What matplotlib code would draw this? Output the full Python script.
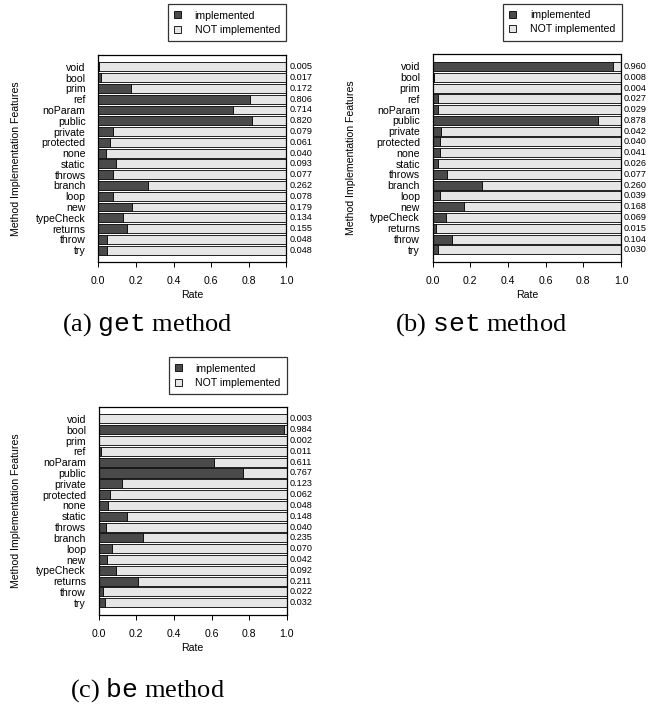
import matplotlib
matplotlib.use("Agg")
import matplotlib.pyplot as plt
from matplotlib.patches import Patch

plt.rcParams["font.family"] = ["Liberation Sans", "DejaVu Sans"]
plt.rcParams["mathtext.fontset"] = "custom"
plt.rcParams["mathtext.tt"] = "Liberation Mono"
plt.rcParams["mathtext.rm"] = "Liberation Serif"

###########################
# Data
###########################

features = ["void", "bool", "prim", "ref", "noParam", "public", "private",
            "protected", "none", "static", "throws", "branch", "loop", "new",
            "typeCheck", "returns", "throw", "try"]

get_rate = [0.005, 0.017, 0.172, 0.806, 0.714, 0.820, 0.079, 0.061, 0.040,
            0.093, 0.077, 0.262, 0.078, 0.179, 0.134, 0.155, 0.048, 0.048]
set_rate = [0.960, 0.008, 0.004, 0.027, 0.029, 0.878, 0.042, 0.040, 0.041,
            0.026, 0.077, 0.260, 0.039, 0.168, 0.069, 0.015, 0.104, 0.030]
be_rate = [0.003, 0.984, 0.002, 0.011, 0.611, 0.767, 0.123, 0.062, 0.048,
           0.148, 0.040, 0.235, 0.070, 0.042, 0.092, 0.211, 0.022, 0.032]

x_ticks = [0.0, 0.2, 0.4, 0.6, 0.8, 1.0]

dark = "#4a4a4a"
light = "#e6e6e6"
fs = 7.6

W, H = 654, 704
fig = plt.figure(figsize=(W / 100, H / 100), dpi=100)


def px_rect(left, top, right, bottom):
    return [left / W, 1 - bottom / H, (right - left) / W, (bottom - top) / H]


def panel(rect_px, rates, legend_px, ylabel_x, caption, caption_xy):
    ax = fig.add_axes(px_rect(*rect_px))
    y = list(range(len(features)))
    not_rates = [1 - r for r in rates]
    ax.barh(y, rates, height=0.833, color=dark, edgecolor="black", linewidth=0.6)
    ax.barh(y, not_rates, left=rates, height=0.833, color=light,
            edgecolor="black", linewidth=0.6)
    ax.set_xlim(0, 1)
    ax.set_ylim(18.13, -1.13)
    ax.set_yticks(y)
    ax.set_yticklabels(features, fontsize=fs)
    ax.tick_params(axis="y", length=0, pad=9.2)
    ax.set_xticks(x_ticks)
    ax.set_xticklabels(["%.1f" % t for t in x_ticks], fontsize=fs)
    ax.tick_params(axis="x", length=3.4, width=0.7, pad=6.5, direction="out")
    ax.set_xlabel("Rate", fontsize=fs, labelpad=3)
    for s in ax.spines.values():
        s.set_linewidth(0.9)

    # valeurs a droite des barres
    for i, r in enumerate(rates):
        ax.text(1.016, i, "%.3f" % r, transform=ax.get_yaxis_transform(),
                fontsize=6.6, va="center", ha="left")

    fig.text(ylabel_x / W, 1 - (rect_px[1] + rect_px[3]) / 2 / H,
             "Method Implementation Features", rotation=90,
             fontsize=fs, ha="center", va="center")

    handles = [Patch(facecolor=dark, edgecolor="black", linewidth=0.6, label="implemented"),
               Patch(facecolor=light, edgecolor="black", linewidth=0.6, label="NOT implemented")]
    lx, ly = legend_px
    leg = fig.legend(handles=handles, loc="upper right",
                     bbox_to_anchor=(lx / W, 1 - ly / H), fontsize=fs,
                     frameon=True, fancybox=False, borderaxespad=0,
                     handlelength=0.65, handleheight=0.65, handletextpad=1.3,
                     borderpad=0.6, labelspacing=0.42)
    leg.get_frame().set_edgecolor("black")
    leg.get_frame().set_linewidth(0.9)

    fig.text(caption_xy[0] / W, 1 - caption_xy[1] / H, caption,
             family="Liberation Serif", fontsize=19, ha="center", va="center")
    return ax


panel((98.3, 54.7, 286.3, 262.3), get_rate, (286.3, 4.3), 16,
      r"(a) $\mathtt{get}$ method", (147.5, 325))
panel((432.7, 54.3, 621.0, 262.0), set_rate, (621.5, 3.7), 351,
      r"(b) $\mathtt{set}$ method", (481, 325))
panel((98.7, 406.7, 286.7, 615.0), be_rate, (287.0, 357.3), 16,
      r"(c) $\mathtt{be}$ method", (147.5, 690))

fig.savefig("out.png", dpi=100)
